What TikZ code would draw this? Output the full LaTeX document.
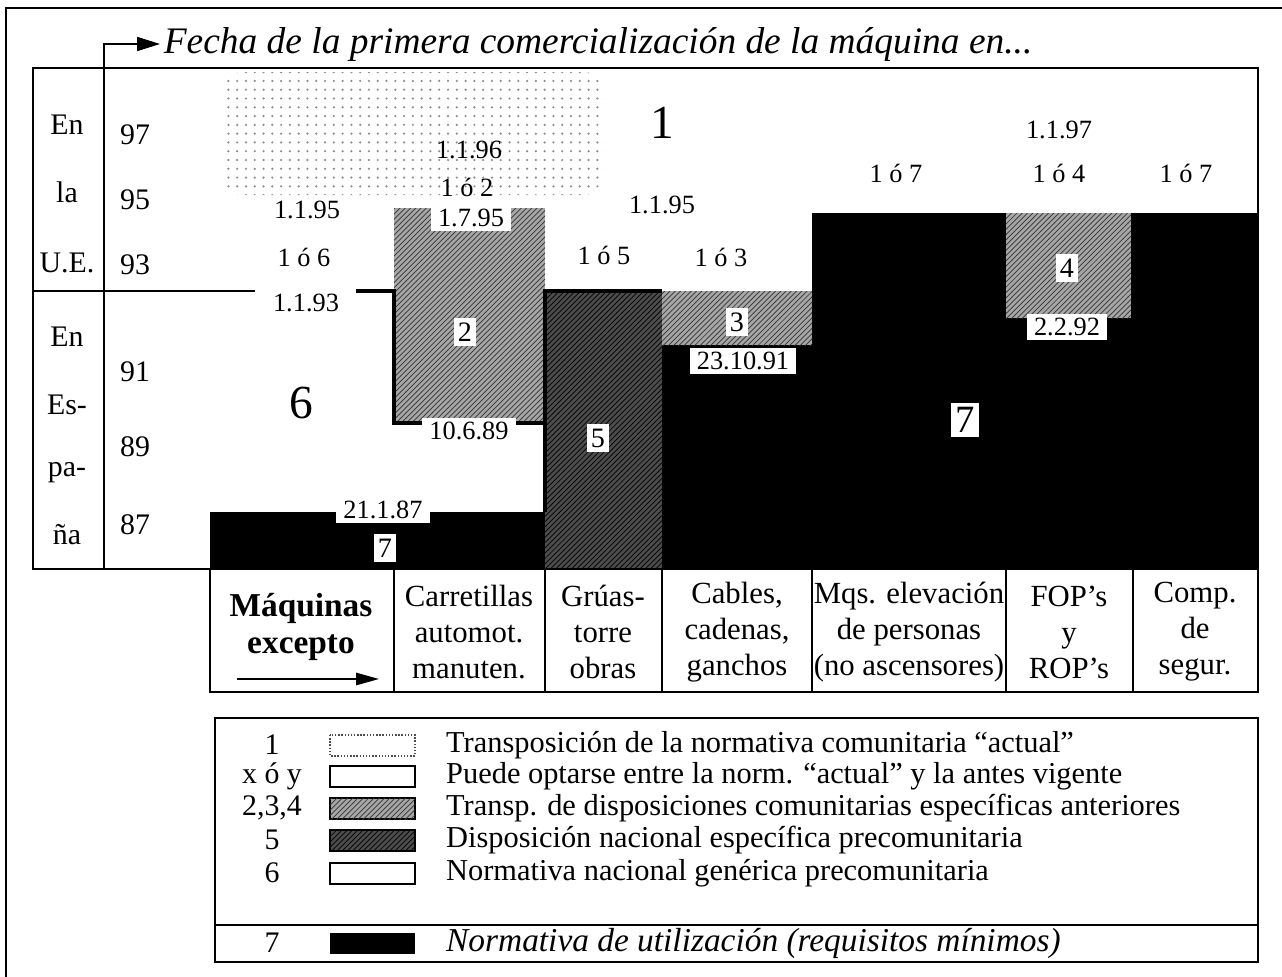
\documentclass[tikz,border=0pt]{standalone}
\usepackage{fontspec}
\setmainfont{Liberation Serif}
\usetikzlibrary{arrows.meta,patterns}

\pgfdeclarepatternformonly{sparsedots}{\pgfqpoint{-1pt}{-1pt}}{\pgfqpoint{6pt}{6pt}}{\pgfqpoint{5pt}{5pt}}{\pgfpathcircle{\pgfqpoint{0pt}{0pt}}{0.7pt}\pgfusepath{fill}}

\tikzset{
  datelbl/.style={font=\fontsize{15}{18}\selectfont, inner sep=1pt},
  datebox/.style={datelbl, fill=white, inner xsep=4pt, inner ysep=2.5pt},
  zonebox/.style={fill=white, inner sep=2.5pt, font=\fontsize{16}{18}\selectfont},
  sidelbl/.style={font=\fontsize{17}{20}\selectfont},
  collbl/.style={font=\fontsize{17.5}{20.5}\selectfont, align=center},
  legnum/.style={font=\fontsize{17}{19}\selectfont},
  legtxt/.style={font=\fontsize{17.3}{19}\selectfont, anchor=west},
  lighthatch/.style={fill=black!35, postaction={pattern=north east lines, pattern color=black!80}},
  darkhatch/.style={fill=black!70, postaction={pattern=north east lines, pattern color=black}},
  stipple/.style={pattern=sparsedots, pattern color=black!45},
}

\begin{document}
\begin{tikzpicture}[x=0.02cm,y=-0.02cm]
\useasboundingbox (0,0) rectangle (1282,977);
\draw[line width=0.7pt] (6,977) -- (6,8) -- (1282,8);

\node[anchor=west, inner sep=2pt, font=\fontsize{21.3}{24}\selectfont\itshape] (title) at (160,44) {Fecha de la primera comercialización de la máquina en...};
\coordinate (brk) at (104,68);
\draw[line width=0.8pt, -{Triangle[length=13pt,width=8pt]}] (brk) |- (title.west);

\path[stipple, rounded corners=12pt] (222,72) rectangle (605,195);
\fill[black] (210,512) rectangle (545,569);
\fill[black] (662,345) -- (812,345) -- (812,213) -- (1006,213) -- (1006,318) -- (1131,318) -- (1131,213) -- (1258,213) -- (1258,569) -- (662,569) -- cycle;
\path[lighthatch] (394,208) rectangle (545,423);
\path[darkhatch] (545,291) rectangle (662,569);
\path[lighthatch] (662,291) rectangle (812,345);
\path[lighthatch] (1006,213) rectangle (1131,318);

\draw[line width=2pt] (356,291) -- (394,291) -- (394,423) -- (545,423);
\draw[line width=2pt] (545,512) -- (545,291) -- (662,291);
\draw[line width=1.5pt] (33,291) -- (255,291);
\draw[line width=0.8pt] (104,68) -- (104,569);
\draw[line width=1.6pt] (33,569) -- (33,68) -- (1258,68) -- (1258,692) -- (210,692) -- (210,569) -- cycle;
\draw[line width=1.2pt] (210,569) -- (1258,569);
\foreach \cx in {394,545,662,812,1006,1133}
  \draw[line width=0.9pt] (\cx,569) -- (\cx,692);

\node[sidelbl] (ue1) at (67,125) {En};
\node[sidelbl] (ue2) at (67,192) {la};
\node[sidelbl] (ue3) at (67,263) {U.E.};
\node[sidelbl] (es1) at (67,337) {En};
\node[sidelbl] (es2) at (67,405) {Es-};
\node[sidelbl] (es3) at (67,473) {pa-};
\node[sidelbl] (es4) at (67,535) {ña};
\foreach \yr/\yy in {97/135,95/200,93/265,91/372,89/447,87/525}
  \node[sidelbl] (yr\yr) at (135,\yy) {\yr};

\node[font=\fontsize{27}{30}\selectfont] (z6) at (301,403) {6};
\node[font=\fontsize{27}{30}\selectfont] (z1) at (662,123) {1};
\node[datelbl] (d1) at (307,210) {1.1.95};
\node[datelbl] (o1) at (304,257) {1 ó 6};
\node[datelbl] (d2) at (306,303) {1.1.93};
\node[datelbl] (d3) at (469,150) {1.1.96};
\node[datelbl] (o2) at (467,187) {1 ó 2};
\node[datebox] (d4) at (471,218) {1.7.95};
\node[datebox] (d5) at (469,431) {10.6.89};
\node[datebox] (d6) at (383,510) {21.1.87};
\node[datelbl] (o5) at (604,255) {1 ó 5};
\node[datelbl] (d7) at (662,205) {1.1.95};
\node[datelbl] (o3) at (721,257) {1 ó 3};
\node[datebox] (d8) at (743,361) {23.10.91};
\node[datelbl] (o7a) at (896,173) {1 ó 7};
\node[datelbl] (d9) at (1059,130) {1.1.97};
\node[datelbl] (o4) at (1059,173) {1 ó 4};
\node[datelbl] (o7b) at (1186,173) {1 ó 7};
\node[datebox] (d10) at (1067,327) {2.2.92};

\node[zonebox] (z2) at (465,332) {2};
\node[zonebox] (z3) at (737,322) {3};
\node[zonebox] (z4) at (1067,268) {4};
\node[zonebox] (z5) at (598,438) {5};
\node[zonebox] (z7a) at (385,548) {7};
\node[zonebox, font=\fontsize{22}{24}\selectfont] (z7b) at (965,420) {7};

\node[collbl, font=\fontsize{19}{21}\selectfont\bfseries] (c1) at (301,627) {Máquinas\\excepto};
\coordinate (a1) at (237,679);
\coordinate (a2) at (379,679);
\draw[line width=1pt, -{Triangle[length=13pt,width=7pt]}] (a1) -- (a2);
\node[collbl] (c2) at (469,632) {Carretillas\\automot.\\manuten.};
\node[collbl] (c3) at (603,632) {Grúas-\\torre\\obras};
\node[collbl] (c4) at (737,632) {Cables,\\cadenas,\\ganchos};
\node[collbl] (c5) at (909,632) {Mqs. elevación\\de personas\\(no ascensores)};
\node[collbl] (c6) at (1069,632) {FOP’s\\y\\ROP’s};
\node[collbl] (c7) at (1195,632) {Comp.\\de\\segur.};

\draw[line width=0.7pt] (215,718) rectangle (1258,962);
\draw[line width=0.7pt] (215,925) -- (1258,925);
\node[legnum] (l1) at (272,745) {1};
\node[legnum] (l2) at (272,776) {x ó y};
\node[legnum] (l3) at (272,808) {2,3,4};
\node[legnum] (l4) at (272,840) {5};
\node[legnum] (l5) at (272,873) {6};
\node[legnum] (l6) at (272,943) {7};
\draw[black!70, densely dotted, line width=0.8pt] (330,735) rectangle (415,756);
\draw[line width=0.6pt] (330,766) rectangle (415,787);
\path[lighthatch, draw=black, line width=0.6pt] (330,798) rectangle (415,819);
\path[darkhatch, draw=black, line width=0.6pt] (330,830) rectangle (415,851);
\draw[line width=0.9pt] (330,863) rectangle (415,884);
\fill[black] (330,933) rectangle (415,954);
\node[legtxt] (t1) at (440,745) {Transposición de la normativa comunitaria “actual”};
\node[legtxt] (t2) at (440,776) {Puede optarse entre la norm. “actual” y la antes vigente};
\node[legtxt] (t3) at (440,808) {Transp. de disposiciones comunitarias específicas anteriores};
\node[legtxt] (t4) at (440,840) {Disposición nacional específica precomunitaria};
\node[legtxt] (t5) at (440,873) {Normativa nacional genérica precomunitaria};
\node[legtxt, font=\fontsize{19}{21}\selectfont\itshape] (t6) at (440,943) {Normativa de utilización (requisitos mínimos)};
\end{tikzpicture}
\end{document}
